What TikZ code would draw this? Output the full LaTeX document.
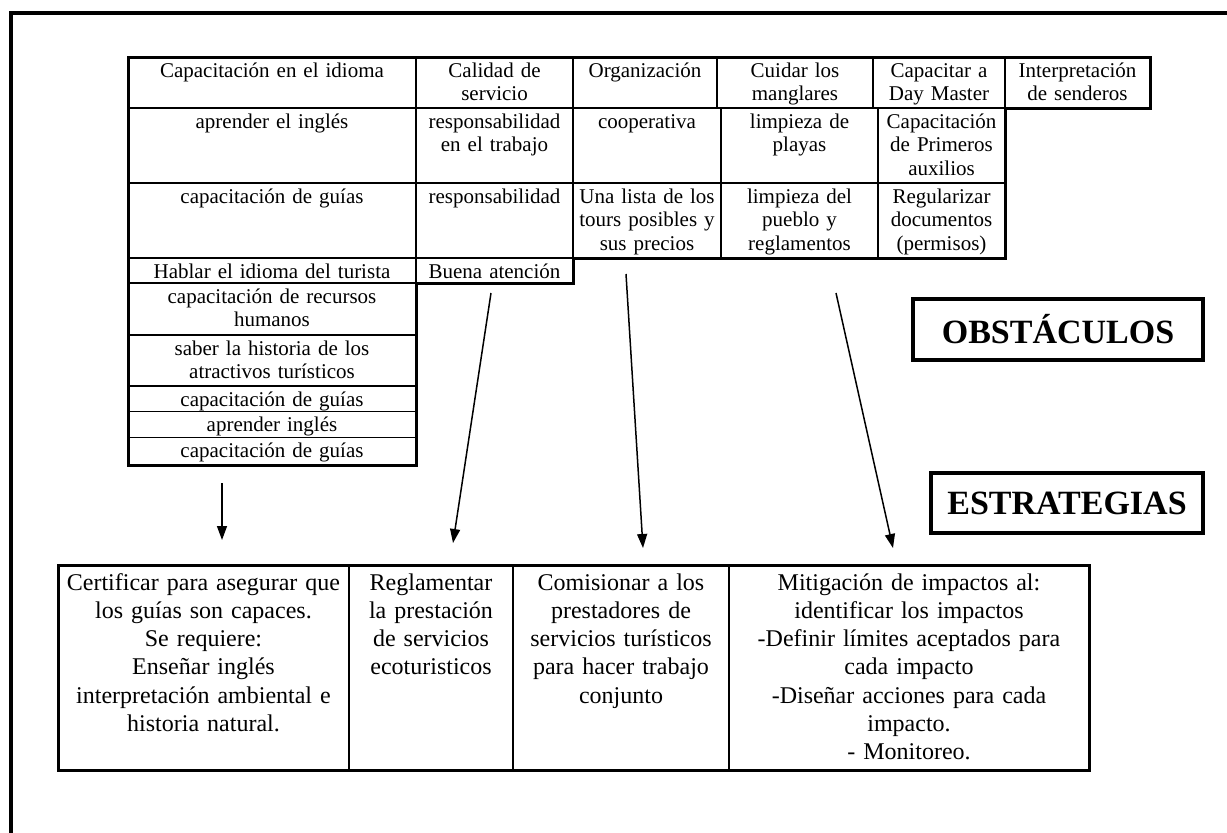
\documentclass[tikz,border=0pt]{standalone}
\usepackage{fontspec}
\setmainfont{Liberation Serif}
\usetikzlibrary{positioning, arrows.meta}
\tikzset{
>={Triangle[width=10pt, length=14pt]}, % punta de flecha rellena
celda/.style 2 args={draw, line width=1.2pt, outer sep=0pt, align=center,
  inner xsep=0pt, inner ysep=3pt, text width=#1, text height=17pt, text depth=#2,
  font=\fontsize{21}{23.8}\selectfont}, % casilla de la tabla de obstaculos
estrategia/.style={draw, line width=1.6pt, outer sep=0pt, align=center,
  inner xsep=0pt, inner ysep=6pt, text width=#1, text height=19pt, text depth=174pt,
  font=\fontsize{24}{28.3}\selectfont}, % casilla de la tabla de estrategias
titulo/.style={draw, line width=3.5pt, font=\bfseries\fontsize{34}{40}\selectfont}, % recuadros de titulo
borde/.style={line width=3pt, line join=miter}, % contorno grueso de las tablas
flecha/.style={->, line width=1.5pt},
}

\begin{document}
\begin{tikzpicture}[x=1pt, y=-1pt]
    \useasboundingbox (0,0) rectangle (1227,833);
    % marco exterior
    \draw[line width=4.5pt] (11,845) -- (11,13) -- (1240,13);

    % tabla de obstaculos
    \node[celda={288pt}{28pt}, anchor=north west] (c11) at (128,57) {Capacitación en el idioma};
    \node[celda={157pt}{28pt}, right=0pt of c11] (c12) {Calidad de\\servicio};
    \node[celda={144pt}{28pt}, right=0pt of c12] (c13) {Organización};
    \node[celda={156pt}{28pt}, right=0pt of c13] (c14) {Cuidar los\\manglares};
    \node[celda={132pt}{28pt}, right=0pt of c14] (c15) {Capacitar a\\Day Master};
    \node[celda={145pt}{28pt}, right=0pt of c15] (c16) {Interpretación\\de senderos};

    \node[celda={288pt}{52pt}, below=0pt of c11] (c21) {aprender el inglés};
    \node[celda={157pt}{52pt}, right=0pt of c21] (c22) {responsabilidad\\en el trabajo};
    \node[celda={148pt}{52pt}, right=0pt of c22] (c23) {cooperativa};
    \node[celda={157pt}{52pt}, right=0pt of c23] (c24) {limpieza de\\playas};
    \node[celda={127pt}{52pt}, right=0pt of c24] (c25) {Capacitación\\de Primeros\\auxilios};

    \node[celda={288pt}{52pt}, below=0pt of c21] (c31) {capacitación de guías};
    \node[celda={157pt}{52pt}, right=0pt of c31] (c32) {responsabilidad};
    \node[celda={148pt}{52pt}, right=0pt of c32] (c33) {Una lista de los\\tours posibles y\\sus precios};
    \node[celda={157pt}{52pt}, right=0pt of c33] (c34) {limpieza del\\pueblo y\\reglamentos};
    \node[celda={127pt}{52pt}, right=0pt of c34] (c35) {Regularizar\\documentos\\(permisos)};

    \node[celda={288pt}{2pt}, below=0pt of c31] (c41) {Hablar el idioma del turista};
    \node[celda={157pt}{2pt}, right=0pt of c41] (c42) {Buena atención};

    \node[celda={288pt}{29pt}, below=0pt of c41] (c51) {capacitación de recursos\\humanos};
    \node[celda={288pt}{28pt}, below=0pt of c51] (c61) {saber la historia de los\\atractivos turísticos};
    \node[celda={288pt}{2.5pt}, below=0pt of c61] (c71) {capacitación de guías};
    \node[celda={288pt}{3pt}, below=0pt of c71] (c81) {aprender inglés};
    \node[celda={288pt}{4.5pt}, below=0pt of c81] (c91) {capacitación de guías};

    \draw[borde] (c11.north west) -- (c16.north east) -- (c16.south east) -- (c25.north east)
        -- (c35.south east) -- (c42.north east) -- (c42.south east) -- (c51.north east)
        -- (c91.south east) -- (c91.south west) -- cycle;

    % recuadros de titulo
    \node[titulo, minimum width=290pt, minimum height=61pt] (obs) at (1058,329.5) {OBSTÁCULOS};
    \node[titulo, minimum width=272pt, minimum height=60pt] (est) at (1067,503) {ESTRATEGIAS};

    % tabla de estrategias
    \node[estrategia=291pt, anchor=north west] (e1) at (58,565) {Certificar para asegurar que\\los guías son capaces.\\Se requiere:\\Enseñar inglés\\interpretación ambiental e\\historia natural.};
    \node[estrategia=164pt, right=0pt of e1] (e2) {Reglamentar\\la prestación\\de servicios\\ecoturisticos};
    \node[estrategia=216pt, right=0pt of e2] (e3) {Comisionar a los\\prestadores de\\servicios turísticos\\para hacer trabajo\\conjunto};
    \node[estrategia=360pt, right=0pt of e3] (e4) {Mitigación de impactos al:\\identificar los impactos\\-Definir límites aceptados para\\cada impacto\\-Diseñar acciones para cada\\impacto.\\- Monitoreo.};
    \draw[borde] (e1.north west) rectangle (e4.south east);

    % flechas
    \coordinate (a1) at (222,483); \coordinate (b1) at (222,540);
    \coordinate (a2) at (491,293); \coordinate (b2) at (453,543);
    \coordinate (a3) at (626,274); \coordinate (b3) at (643,548);
    \coordinate (a4) at (836,293); \coordinate (b4) at (893,548);
    \draw[flecha] (a1) -- (b1);
    \draw[flecha] (a2) -- (b2);
    \draw[flecha] (a3) -- (b3);
    \draw[flecha] (a4) -- (b4);
\end{tikzpicture}
\end{document}
